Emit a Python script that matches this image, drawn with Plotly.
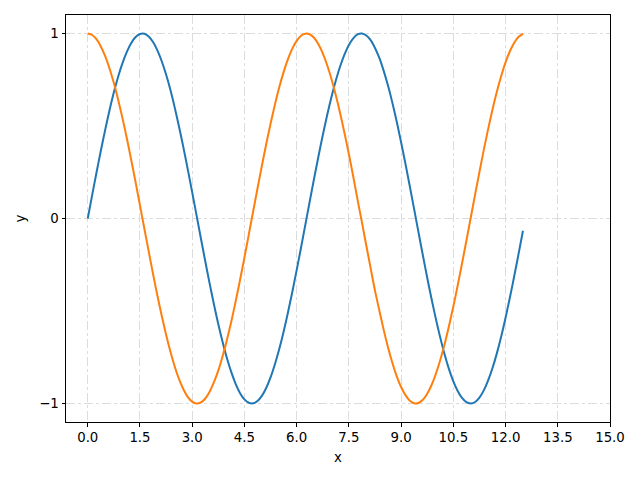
import plotly.graph_objects as go

x_vals = [0.0, 0.125, 0.25, 0.375, 0.5, 0.625, 0.75, 0.875, 1.0,
          1.125, 1.25, 1.375, 1.5, 1.625, 1.75, 1.875, 2.0,
          2.125, 2.25, 2.375, 2.5, 2.625, 2.75, 2.875, 3.0,
          3.125, 3.25, 3.375, 3.5, 3.625, 3.75, 3.875, 4.0,
          4.125, 4.25, 4.375, 4.5, 4.625, 4.75, 4.875, 5.0,
          5.125, 5.25, 5.375, 5.5, 5.625, 5.75, 5.875, 6.0,
          6.125, 6.25, 6.375, 6.5, 6.625, 6.75, 6.875, 7.0,
          7.125, 7.25, 7.375, 7.5, 7.625, 7.75, 7.875, 8.0,
          8.125, 8.25, 8.375, 8.5, 8.625, 8.75, 8.875, 9.0,
          9.125, 9.25, 9.375, 9.5, 9.625, 9.75, 9.875, 10.0,
          10.125, 10.25, 10.375, 10.5, 10.625, 10.75, 10.875, 11.0,
          11.125, 11.25, 11.375, 11.5, 11.625, 11.75, 11.875, 12.0,
          12.125, 12.25, 12.375, 12.5]

sin_vals = [0.000, 0.125, 0.247, 0.366, 0.479, 0.585, 0.682, 0.768, 0.841,
            0.902, 0.949, 0.981, 0.997, 0.999, 0.984, 0.954, 0.909,
            0.850, 0.778, 0.694, 0.598, 0.493, 0.382, 0.263, 0.141,
            0.017, -0.108, -0.231, -0.351, -0.465, -0.572, -0.669, -0.757,
            -0.832, -0.895, -0.944, -0.978, -0.996, -0.999, -0.987, -0.959,
            -0.916, -0.859, -0.788, -0.706, -0.612, -0.508, -0.397, -0.279,
            -0.158, -0.033, 0.092, 0.215, 0.335, 0.450, 0.558, 0.657,
            0.746, 0.823, 0.887, 0.938, 0.974, 0.995, 1.000, 0.989,
            0.964, 0.922, 0.868, 0.798, 0.717, 0.625, 0.523, 0.412,
            0.295, 0.174, 0.050, -0.075, -0.199, -0.320, -0.435, -0.544,
            -0.644, -0.735, -0.814, -0.880, -0.932, -0.970, -0.993, -1.000,
            -0.992, -0.968, -0.929, -0.875, -0.808, -0.729, -0.638, -0.536,
            -0.427, -0.311, -0.190, -0.066]

cos_vals = [1.000, 0.992, 0.969, 0.930, 0.878, 0.811, 0.732, 0.641, 0.540,
            0.431, 0.315, 0.195, 0.071, -0.054, -0.178, -0.300, -0.416,
            -0.526, -0.628, -0.720, -0.801, -0.870, -0.924, -0.965, -0.990,
            -1.000, -0.994, -0.973, -0.936, -0.885, -0.821, -0.743, -0.654,
            -0.555, -0.446, -0.331, -0.211, -0.087, 0.038, 0.162, 0.284,
            0.401, 0.512, 0.615, 0.709, 0.791, 0.861, 0.918, 0.960,
            0.988, 0.999, 0.996, 0.977, 0.942, 0.893, 0.830, 0.754,
            0.666, 0.568, 0.461, 0.347, 0.227, 0.101, -0.021, -0.146,
            -0.268, -0.390, -0.497, -0.602, -0.697, -0.781, -0.853, -0.911,
            -0.955, -0.985, -0.999, -0.997, -0.980, -0.947, -0.900, -0.839,
            -0.765, -0.679, -0.581, -0.476, -0.362, -0.243, -0.120, 0.004,
            0.129, 0.251, 0.371, 0.483, 0.589, 0.685, 0.770, 0.844,
            0.904, 0.950, 0.982, 0.998]

x_ticks = [0.0, 1.5, 3.0, 4.5, 6.0, 7.5, 9.0, 10.5, 12.0, 13.5, 15.0]
x_tick_labels = ["0.0", "1.5", "3.0", "4.5", "6.0", "7.5", "9.0", "10.5", "12.0", "13.5", "15.0"]
y_ticks = [-1, 0, 1]
y_tick_labels = ["\u22121", "0", "1"]

fig = go.Figure()
fig.add_trace(go.Scatter(x=x_vals, y=sin_vals, mode="lines",
                         line=dict(color="#1f77b4", width=2, shape="spline", smoothing=0.8)))
fig.add_trace(go.Scatter(x=x_vals, y=cos_vals, mode="lines",
                         line=dict(color="#ff7f0e", width=2, shape="spline", smoothing=0.8)))

axis_common = dict(showline=True, mirror=True, linecolor="black", linewidth=1,
                   ticks="outside", ticklen=3.5, tickwidth=0.8, tickcolor="black",
                   showgrid=True, gridcolor="#dcdcdc", gridwidth=0.8, griddash="dashdot",
                   zeroline=False, tickfont=dict(family="DejaVu Sans", size=13.3, color="black"))

fig.update_layout(
    width=640, height=480,
    margin=dict(l=57.5, r=38, t=7, b=65.7),
    paper_bgcolor="white", plot_bgcolor="white",
    showlegend=False,
    font=dict(family="DejaVu Sans", size=13.3, color="black"),
    xaxis=dict(range=[-0.625, 15.0], tickvals=x_ticks, ticktext=x_tick_labels,
               title=dict(text="x", standoff=8, font=dict(size=13.3)), **axis_common),
    yaxis=dict(range=[-1.1, 1.1], tickvals=y_ticks, ticktext=y_tick_labels,
               title=dict(text="y", standoff=10, font=dict(size=13.3)), **axis_common),
)

fig.write_html("out.html")
